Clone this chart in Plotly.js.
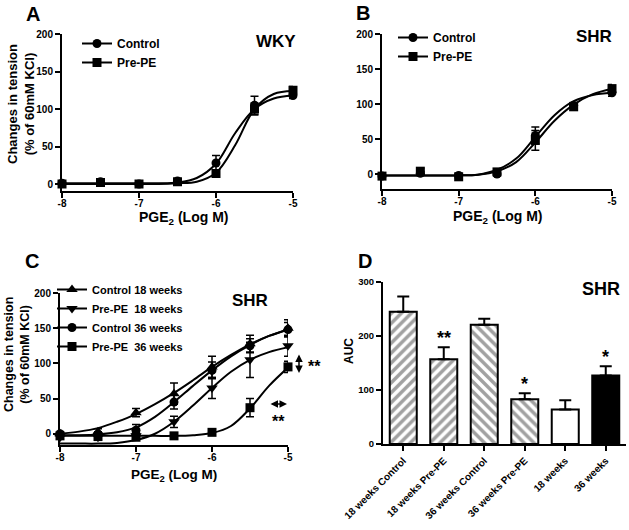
<!DOCTYPE html>
<html>
<head>
<meta charset="utf-8">
<script src="https://cdn.plot.ly/plotly-3.0.1.min.js"></script>
<style>html,body{margin:0;padding:0;background:#fff;}#chart{width:629px;height:530px;}</style>
</head>
<body>
<div id="chart"></div>
<script>
// ---------- data ----------
const doseX = [-8, -7.5, -7, -6.5, -6, -5.5, -5];
const curveX = [-8, -7.75, -7.5, -7.25, -7, -6.75, -6.5, -6.25, -6, -5.75, -5.5, -5.25, -5];
const doseTickVals = [-8, -7, -6, -5];
const doseTickText = ['-8', '-7', '-6', '-5'];
const tensionTicks = [0, 50, 100, 150, 200];

// Panel A (WKY)
const wkyControl = [1, 3, 0, 4, 28, 105, 118];
const wkyControlErr = [2, 2, 2, 2, 10, 12, 4];
const wkyPrePE = [0, 2, 0, 3, 14, 100, 125];
const wkyPrePEErr = [2, 2, 2, 2, 4, 8, 5];
const wkyControlCurve = [1, 1, 1, 1, 1, 1, 2, 8, 27, 68, 100, 114, 118];
const wkyPrePECurve = [0, 0, 0, 0, 0, 0, 1, 3, 15, 52, 100, 120, 124];

// Panel B (SHR)
const shrControl = [-3, 1, -2, 0, 55, 98, 116];
const shrControlErr = [2, 3, 2, 3, 12, 4, 5];
const shrPrePE = [-3, 4, -4, 3, 48, 96, 122];
const shrPrePEErr = [2, 4, 2, 3, 14, 5, 6];
const shrControlCurve = [-2, -2, -2, -2, -2, -1, 6, 22, 53, 84, 104, 113, 116];
const shrPrePECurve = [-2, -2, -2, -2, -2, -1, 4, 17, 45, 76, 99, 114, 122];

// Panel C (SHR, ages)
const ctrl18 = [0, 3, 30, 57, 95, 128, 150];
const ctrl18Err = [3, 4, 6, 15, 15, 12, 12];
const pre18 = [-5, -5, -3, 17, 65, 105, 125];
const pre18Err = [3, 4, 5, 8, 15, 25, 15];
const ctrl36 = [0, -2, 5, 45, 90, 125, 148];
const ctrl36Err = [3, 5, 8, 10, 12, 10, 10];
const pre36 = [-3, -4, -5, -3, 2, 37, 95];
const pre36Err = [3, 3, 3, 3, 3, 13, 8];
const ctrl18Curve = [0, 3, 8, 17, 28, 42, 58, 76, 95, 112, 127, 139, 148];
const ctrl36Curve = [-2, -2, -1, 2, 9, 24, 45, 68, 90, 110, 126, 139, 148];
const pre18Curve = [-14, -14, -14, -13, -9, 0, 17, 40, 65, 88, 105, 116, 123];
const pre36Curve = [-3, -3, -3, -3, -3, -3, -3, -2, 1, 11, 36, 68, 94];

// Panel D (AUC)
const aucCategories = ['18 weeks Control', '18 weeks Pre-PE', '36 weeks Control', '36 weeks Pre-PE', '18 weeks', '36 weeks'];
const aucValues = [245, 157, 221, 83, 64, 127];
const aucErr = [28, 22, 11, 11, 17, 17];
const aucStars = ['', '**', '', '*', '', '*'];
const aucTicks = [0, 100, 200, 300];

// ---------- helpers ----------
const F = 'Liberation Sans, Arial, sans-serif';
const W = 629, H = 530;
const px = x => x / W;
const py = y => 1 - y / H;

// isolate points (null between) so legend shows line+marker but no joining lines
function iso(xs, ys, es) {
  const X = [], Y = [], E = [];
  xs.forEach((x, i) => { X.push(x); Y.push(ys[i]); E.push(es[i]); X.push(x); Y.push(null); E.push(null); });
  return {X, Y, E};
}
function dataTrace(xs, ys, es, name, symbol, size, xa, ya, legend) {
  const d = iso(xs, ys, es);
  return {
    type: 'scatter', mode: 'lines+markers', x: d.X, y: d.Y, name: name,
    xaxis: xa, yaxis: ya, legend: legend, connectgaps: false, cliponaxis: false,
    line: {color: 'black', width: 2},
    marker: {symbol: symbol, size: size, color: 'black'},
    error_y: {type: 'data', array: d.E, symmetric: true, color: 'black', thickness: 1.5, width: 4}
  };
}
function curveTrace(ys, xa, ya) {
  return {
    type: 'scatter', mode: 'lines', x: curveX, y: ys, xaxis: xa, yaxis: ya,
    showlegend: false, hoverinfo: 'skip', cliponaxis: false,
    line: {color: 'black', width: 2, shape: 'spline', smoothing: 1}
  };
}

const traces = [
  curveTrace(wkyControlCurve, 'x', 'y'),
  curveTrace(wkyPrePECurve, 'x', 'y'),
  dataTrace(doseX, wkyControl, wkyControlErr, 'Control', 'circle', 9, 'x', 'y', 'legend'),
  dataTrace(doseX, wkyPrePE, wkyPrePEErr, 'Pre-PE', 'square', 9, 'x', 'y', 'legend'),

  curveTrace(shrControlCurve, 'x2', 'y2'),
  curveTrace(shrPrePECurve, 'x2', 'y2'),
  dataTrace(doseX, shrControl, shrControlErr, 'Control', 'circle', 9, 'x2', 'y2', 'legend2'),
  dataTrace(doseX, shrPrePE, shrPrePEErr, 'Pre-PE', 'square', 9, 'x2', 'y2', 'legend2'),

  curveTrace(ctrl18Curve, 'x3', 'y3'),
  curveTrace(pre18Curve, 'x3', 'y3'),
  curveTrace(ctrl36Curve, 'x3', 'y3'),
  curveTrace(pre36Curve, 'x3', 'y3'),
  dataTrace(doseX, ctrl18, ctrl18Err, 'Control 18 weeks', 'triangle-up', 10, 'x3', 'y3', 'legend3'),
  dataTrace(doseX, pre18, pre18Err, 'Pre-PE  18 weeks', 'triangle-down', 10, 'x3', 'y3', 'legend3'),
  dataTrace(doseX, ctrl36, ctrl36Err, 'Control 36 weeks', 'circle', 9, 'x3', 'y3', 'legend3'),
  dataTrace(doseX, pre36, pre36Err, 'Pre-PE  36 weeks', 'square', 9, 'x3', 'y3', 'legend3'),

  {
    type: 'bar', x: aucCategories, y: aucValues, xaxis: 'x4', yaxis: 'y4', showlegend: false,
    marker: {
      color: ['#ffffff', '#ffffff', '#ffffff', '#ffffff', '#ffffff', '#000000'],
      line: {color: '#000000', width: 2},
      pattern: {shape: ['/', '/', '\\', '\\', '', ''], fgcolor: '#000000', size: 7, solidity: 0.5, fillmode: 'overlay'}
    },
    error_y: {type: 'data', array: aucErr, arrayminus: aucErr.map(() => 0), symmetric: false, color: '#000000', thickness: 2, width: 6}
  }
];

const tickFont = {family: F, size: 10, color: '#000000', weight: 'bold'};
function baseAxis(extra) {
  return Object.assign({
    showline: true, linewidth: 2, linecolor: '#000000', ticks: 'outside', ticklen: 5, tickwidth: 2,
    tickcolor: '#000000', showgrid: false, zeroline: false, tickfont: tickFont, fixedrange: true
  }, extra);
}
const doseAxis = (dom, anchor) => baseAxis({domain: dom, anchor: anchor, range: [-8, -5], tickvals: doseTickVals,
  ticktext: doseTickText, ticklabelstandoff: -3});

const ann = [];
function text(t, x, y, size, extra) {
  ann.push(Object.assign({text: t, x: px(x), y: py(y), xref: 'paper', yref: 'paper', showarrow: false,
    xanchor: 'center', yanchor: 'middle', font: {family: F, size: size, color: '#000000', weight: 'bold'}}, extra || {}));
}
// panel letters
text('A', 33, 14, 20); text('B', 363, 13, 20); text('C', 32, 261, 20); text('D', 365, 261, 20);
// strain labels
text('WKY', 276, 42, 17); text('SHR', 594, 37, 17); text('SHR', 250, 300, 17); text('SHR', 601, 289, 18);
// axis titles
const yTitle = 'Changes in tension<br>(% of 60mM KCl)';
text(yTitle, 21, 104, 13, {textangle: -90});
text(yTitle, 17, 355, 12.5, {textangle: -90});
text('AUC', 349, 351, 12, {textangle: -90});
const xTitle = 'PGE<sub>2</sub> (Log M)';
text(xTitle, 183, 218, 14); text(xTitle, 497, 217, 14); text(xTitle, 174, 475, 13.5);
// significance marks in C
ann.push({x: px(299), y: py(373), ax: px(299), ay: py(353), axref: 'paper', ayref: 'paper', xref: 'paper', yref: 'paper',
  text: '', showarrow: true, arrowside: 'end+start', arrowhead: 2, arrowsize: 1, arrowwidth: 1.5, arrowcolor: '#000000'});
ann.push({x: px(287), y: py(404), ax: px(269), ay: py(404), axref: 'paper', ayref: 'paper', xref: 'paper', yref: 'paper',
  text: '', showarrow: true, arrowside: 'end+start', arrowhead: 2, arrowsize: 1, arrowwidth: 1.5, arrowcolor: '#000000'});
text('**', 315, 366, 16);
text('**', 278, 421, 16);
// stars over bars in D
aucCategories.forEach((c, i) => {
  if (!aucStars[i]) return;
  ann.push({text: aucStars[i], x: c, y: aucValues[i] + aucErr[i], xref: 'x4', yref: 'y4', showarrow: false,
    xanchor: 'center', yanchor: 'bottom', yshift: -3, font: {family: F, size: 18, color: '#000000', weight: 'bold'}});
});

const legendBase = (x, y, size) => ({x: px(x), y: py(y), xref: 'paper', yref: 'paper', xanchor: 'left', yanchor: 'top',
  bgcolor: 'rgba(0,0,0,0)', borderwidth: 0, itemwidth: 30, font: {family: F, size: size, color: '#000000', weight: 'bold'}});

const layout = {
  width: W, height: H, margin: {l: 0, r: 0, t: 0, b: 0},
  font: {family: F, color: '#000000'},
  paper_bgcolor: '#ffffff', plot_bgcolor: 'rgba(0,0,0,0)',
  showlegend: true,
  legend: legendBase(77, 29, 12),
  legend2: legendBase(393, 23, 12),
  legend3: legendBase(52, 275, 11),
  xaxis: doseAxis([px(62), px(293)], 'y'),
  yaxis: baseAxis({domain: [py(190.75), py(34)], anchor: 'x', range: [-9, 200], tickvals: tensionTicks}),
  xaxis2: doseAxis([px(382), px(612)], 'y2'),
  yaxis2: baseAxis({domain: [py(188.7), py(34)], anchor: 'x2', range: [-21, 200], tickvals: tensionTicks}),
  xaxis3: doseAxis([px(60), px(288)], 'y3'),
  yaxis3: baseAxis({domain: [py(445), py(293)], anchor: 'x3', range: [-16, 200], tickvals: tensionTicks}),
  xaxis4: baseAxis({domain: [px(383), px(626)], anchor: 'y4', type: 'category', range: [-0.5, 5.5], tickangle: -45,
    tickfont: {family: F, size: 10, color: '#000000', weight: 'bold'}}),
  yaxis4: baseAxis({domain: [py(444), py(282)], anchor: 'x4', range: [0, 300], tickvals: aucTicks,
    tickfont: {family: F, size: 9.5, color: '#000000', weight: 'bold'}}),
  bargap: 0.333,
  annotations: ann
};

Plotly.newPlot('chart', traces, layout, {staticPlot: true, displayModeBar: false});
</script>
</body>
</html>
